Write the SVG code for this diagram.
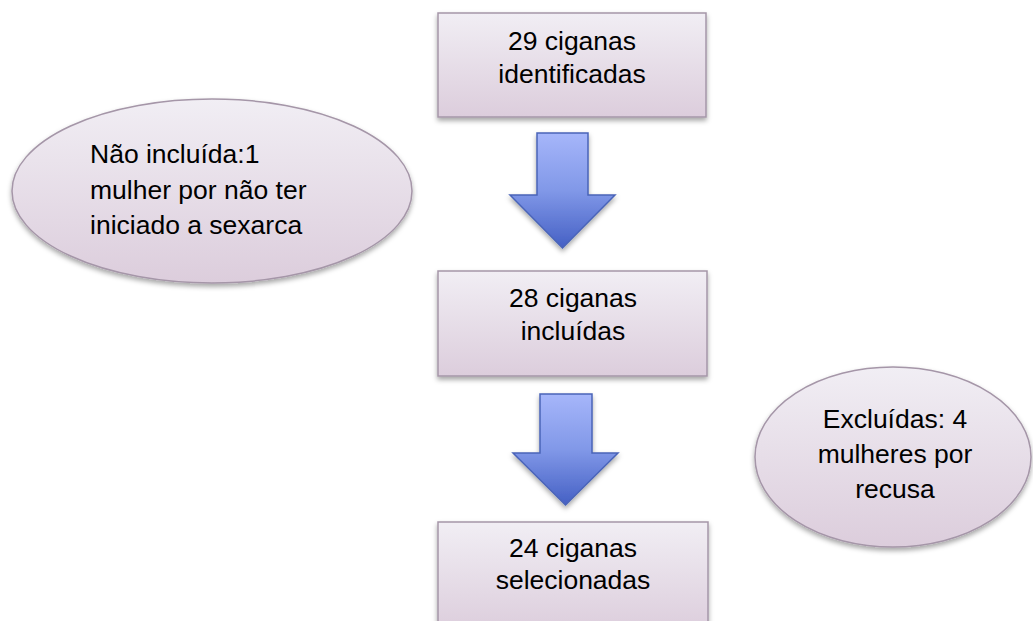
<svg xmlns="http://www.w3.org/2000/svg" width="1033" height="621" viewBox="0 0 1033 621">
<style>
.box{fill:url(#gBox);stroke:#A596A8;stroke-width:1.5;filter:url(#sh)}
.arr{fill:url(#gArr);stroke:#4A64B8;stroke-width:1.5;filter:url(#sh)}
text{font-family:"Liberation Sans",Arial,sans-serif;font-size:26.5px;fill:#000}
.c{text-anchor:middle}
</style>
<defs>
<linearGradient id="gBox" x1="0" y1="0" x2="0" y2="1">
<stop offset="0" stop-color="#F1EEF4"/>
<stop offset="1" stop-color="#DCCDDC"/>
</linearGradient>
<linearGradient id="gArr" x1="0" y1="0" x2="0" y2="1">
<stop offset="0" stop-color="#A6B6FA"/>
<stop offset="0.5" stop-color="#8198E8"/>
<stop offset="1" stop-color="#4560C4"/>
</linearGradient>
<filter id="sh" x="-10%" y="-10%" width="120%" height="130%">
<feDropShadow dx="0" dy="3" stdDeviation="2.5" flood-color="#000" flood-opacity="0.35"/>
</filter>
</defs>
<g id="connectors">
<path class="arr" d="M537,133 H588 V195 H615 L562.5,248 L510,195 H537 Z"/>
<path class="arr" d="M540,394 H592 V453 H618 L565.5,505 L513,453 H540 Z"/>
</g>
<g id="n1">
<rect class="box" x="438" y="13" width="268" height="104"/>
<text class="c" x="572" y="50">29 ciganas</text>
<text class="c" x="572" y="83">identificadas</text>
</g>
<g id="n2">
<rect class="box" x="438" y="271" width="269" height="105"/>
<text class="c" x="573" y="307">28 ciganas</text>
<text class="c" x="573" y="340">incluídas</text>
</g>
<g id="n3">
<rect class="box" x="438" y="522" width="270" height="110"/>
<text class="c" x="573" y="557">24 ciganas</text>
<text class="c" x="573" y="589">selecionadas</text>
</g>
<g id="e1">
<ellipse class="box" cx="212" cy="191" rx="200" ry="92"/>
<text x="90" y="163">Não incluída:1</text>
<text x="90" y="199">mulher por não ter</text>
<text x="90" y="234">iniciado a sexarca</text>
</g>
<g id="e2">
<ellipse class="box" cx="893" cy="457" rx="138" ry="90"/>
<text class="c" x="895" y="428">Excluídas: 4</text>
<text class="c" x="895" y="463">mulheres por</text>
<text class="c" x="895" y="498">recusa</text>
</g>
</svg>
